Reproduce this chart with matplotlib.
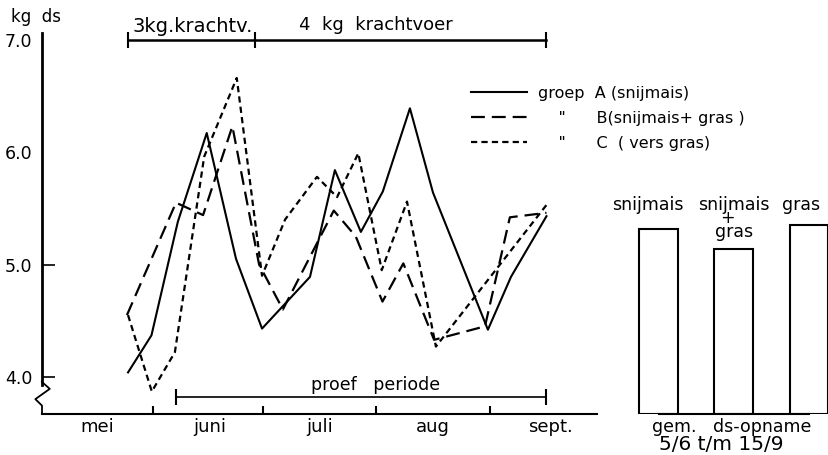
import numpy as np
import matplotlib
matplotlib.use("Agg")
import matplotlib.pyplot as plt
from matplotlib.lines import Line2D

plt.rcParams['font.family'] = ['DejaVu Sans']
plt.rcParams['lines.scale_dashes'] = False

# ---- data (x = days after 1 May, y = kg ds) ----
days_a = [24.2, 30.6, 37.8, 45.7, 53.7, 60.8, 73.9, 80.7, 87.8, 93.8, 101.2, 107.5, 122.5, 128.8, 138.5]
vals_a = [4.04, 4.37, 5.38, 6.17, 5.05, 4.43, 4.89, 5.84, 5.29, 5.65, 6.39, 5.64, 4.42, 4.89, 5.43]

days_b = [23.9, 37.3, 44.7, 52.7, 60.0, 66.5, 80.4, 86.4, 93.7, 99.4, 107.8, 121.7, 128.5, 138.5]
vals_b = [4.55, 5.55, 5.44, 6.23, 5.00, 4.60, 5.48, 5.25, 4.67, 5.01, 4.33, 4.45, 5.42, 5.46]

days_c = [24.2, 30.7, 37.0, 45.0, 53.9, 60.8, 67.1, 75.8, 81.3, 87.1, 93.5, 100.4, 108.3, 138.5]
vals_c = [4.55, 3.87, 4.22, 5.96, 6.66, 4.90, 5.40, 5.78, 5.60, 5.99, 4.95, 5.56, 4.27, 5.53]

labels_groups = ['groep  A (snijmais)', '    "      B(snijmais+ gras )', '    "      C  ( vers gras)']

month_starts = [31, 61, 92, 123]
month_mid = [15.7, 46.6, 76.6, 107.4, 139.5]
month_names = ['mei', 'juni', 'juli', 'aug', 'sept.']

feed_edges = [24.2, 58.9, 138.5]
feed_labels = ['3kg.krachtv.', '4  kg  krachtvoer']
proef_edges = [37.3, 138.5]

bar_names = ['snijmais', 'snijmais\n+  \ngras', 'gras']
bar_means = [5.32, 5.14, 5.35]

ymin, ymax = 3.67, 7.06

# ---- figure ----
W, H = 829, 455
fig = plt.figure(figsize=(W / 100, H / 100), dpi=100)
ax = fig.add_axes([42 / W, 41 / H, 555 / W, 381 / H])
ax.set_xlim(0.7, 152.3)
ax.set_ylim(ymin, ymax)

ax.plot(days_a, vals_a, color='k', lw=1.5, label=labels_groups[0])
ax.plot(days_b, vals_b, color='k', lw=1.6, dashes=(10, 5), label=labels_groups[1])
ax.plot(days_c, vals_c, color='k', lw=1.6, dashes=(4.5, 3), label=labels_groups[2])

for s in ['top', 'right']:
    ax.spines[s].set_visible(False)
ax.spines['left'].set_bounds(3.93, ymax)
ax.spines['left'].set_linewidth(2)
ax.spines['bottom'].set_linewidth(1.5)
# axis break zigzag at the bottom of the y axis
zx = [0, 0.014, -0.012, 0, 0]
zy = [0.084, 0.066, 0.039, 0.022, 0]
ax.add_line(Line2D(zx, zy, transform=ax.transAxes, color='k', lw=1.3, clip_on=False))

ax.set_yticks([4, 5, 6, 7])
ax.set_yticklabels(['4.0', '5.0', '6.0', '7.0'], fontsize=12.5)
ax.tick_params(axis='y', direction='in', length=9, width=1.2, pad=7)
for t in ax.yaxis.get_major_ticks()[2:]:
    t.tick1line.set_visible(False)

ax.set_xticks(month_starts)
ax.set_xticklabels([])
ax.set_xticks(month_mid, minor=True)
ax.set_xticklabels(month_names, minor=True, fontsize=13)
ax.tick_params(axis='x', which='major', direction='in', length=6, width=1.5)
ax.tick_params(axis='x', which='minor', length=0, pad=3)

# feeding periods on top
ax.plot(feed_edges, [7.0] * len(feed_edges), color='k', lw=1.8, marker='|', ms=11, mew=1.5, clip_on=False)
ax.text(41.9, 7.12, feed_labels[0], ha='center', va='center', fontsize=14)
ax.text(92, 7.13, feed_labels[1], ha='center', va='center', fontsize=13)

# trial period
ax.plot(proef_edges, [3.82, 3.82], color='k', lw=1.2, marker='|', ms=11, mew=1.5)
ax.text(91.7, 3.93, 'proef   periode', ha='center', va='center', fontsize=12.5)

fig.text(36 / W, 1 - 17 / H, 'kg  ds', ha='center', va='center', fontsize=12)

ax.legend(loc='upper left', bbox_to_anchor=(471 / W, 1 - 86 / H), bbox_transform=fig.transFigure,
          frameon=False, fontsize=11.5, borderpad=0, borderaxespad=0, handlelength=3.5,
          handletextpad=0.7, labelspacing=0.62)

# ---- right panel: mean ds intake ----
ax2 = fig.add_axes([621 / W, 41 / H, 208 / W, 381 / H])
ax2.set_facecolor('none')
ax2.set_xlim(-0.5, 2.27)
ax2.set_ylim(ymin, ymax)
x2 = np.arange(len(bar_means))
ax2.bar(x2, np.array(bar_means) - ymin, bottom=ymin, width=0.51,
        facecolor='none', edgecolor='k', lw=1.5)
for s in ['top', 'right', 'left']:
    ax2.spines[s].set_visible(False)
ax2.spines['bottom'].set_bounds(0, 2)
ax2.spines['bottom'].set_linewidth(1.5)
ax2.set_xticks([])
ax2.set_yticks([])
label_x = [-0.14, 1.0, 1.9]
label_y = [5.53, 5.41, 5.53]
for i, name in enumerate(bar_names):
    ax2.text(label_x[i], label_y[i], name, ha='center', va='center', fontsize=12.5,
             linespacing=0.68, clip_on=False)

fig.text(732 / W, 1 - 427 / H, 'gem.   ds-opname', ha='center', va='center', fontsize=12.5)
fig.text(721 / W, 1 - 445 / H, '5/6 t/m 15/9', ha='center', va='center', fontsize=14.5)

fig.savefig('out.png', dpi=100)
